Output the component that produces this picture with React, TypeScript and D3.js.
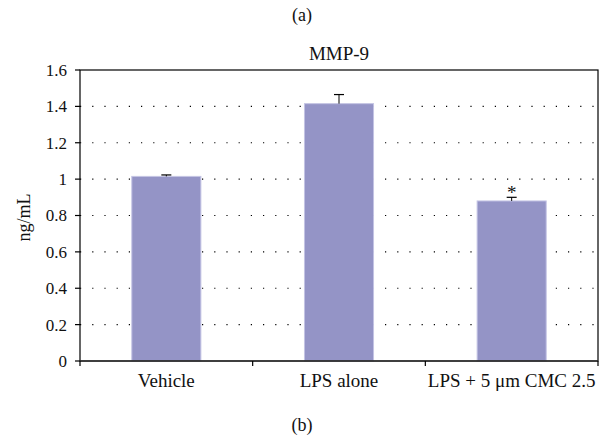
import React from "react";
import * as d3 from "d3";

const categories = ["Vehicle", "LPS alone", "LPS + 5 μm CMC 2.5"];
const values = [1.015, 1.415, 0.88];
const errors = [0.008, 0.05, 0.02];
const significant = [false, false, true];
const yTicks = [0, 0.2, 0.4, 0.6, 0.8, 1, 1.2, 1.4, 1.6];

const W = 611, H = 438;
const M = { left: 80, right: 13, top: 70, bottom: 77 };
const FONT = "Liberation Serif";

export default function App() {
  const x = d3.scaleBand<string>().domain(categories).range([M.left, W - M.right]).padding(0);
  const y = d3.scaleLinear().domain([0, 1.6]).range([H - M.bottom, M.top]);
  const bw = x.bandwidth() * 0.4;
  const x0 = M.left, x1 = W - M.right, y0 = y(0), y1 = y(1.6);
  return (
    <svg width={W} height={H} style={{ position: "absolute", left: 0, top: 0, background: "#fff" }}>
      <g fontFamily={FONT} fill="#111">
        <text x={302} y={21} textAnchor="middle" fontSize={18}>(a)</text>
        <text x={(x0 + x1) / 2} y={60} textAnchor="middle" fontSize={19}>MMP-9</text>
        {yTicks.map(t => (
          <text key={t} x={x0 - 13} y={y(t)} dy="0.35em" textAnchor="end" fontSize={17}>{t}</text>
        ))}
        {categories.map((c, i) => {
          const cx = x(c)! + x.bandwidth() / 2;
          return (
            <g key={c}>
              {significant[i] && (
                <text x={cx} y={y(values[i] + errors[i]) + 2} textAnchor="middle" fontSize={19}>*</text>
              )}
              <text x={cx} y={y0 + 26} textAnchor="middle" fontSize={19}>{c}</text>
            </g>
          );
        })}
        <text transform={`translate(30,${(y0 + y1) / 2 + 2}) rotate(-90)`} textAnchor="middle" fontSize={18}>ng/mL</text>
        <text x={302} y={431} textAnchor="middle" fontSize={18}>(b)</text>
      </g>
      {yTicks.filter(t => t > 0 && t < 1.6).map(t => (
        <line key={t} x1={x0} x2={x1} y1={y(t)} y2={y(t)} stroke="#000" strokeWidth={1.2} strokeDasharray="1.2 11" />
      ))}
      {categories.map((c, i) => {
        const cx = x(c)! + x.bandwidth() / 2;
        return (
          <g key={c}>
            <rect x={cx - bw / 2} y={y(values[i])} width={bw} height={y0 - y(values[i])} fill="#9494c6" stroke="#c4c4e4" strokeWidth={1} />
            <line x1={cx} x2={cx} y1={y(values[i])} y2={y(values[i] + errors[i])} stroke="#000" strokeWidth={1} />
            <line x1={cx - 5} x2={cx + 5} y1={y(values[i] + errors[i])} y2={y(values[i] + errors[i])} stroke="#000" strokeWidth={1.2} />
          </g>
        );
      })}
      <rect x={x0} y={y1} width={x1 - x0} height={y0 - y1} fill="none" stroke="#000" strokeWidth={1.2} />
      <line x1={x0} x2={x1} y1={y0} y2={y0} stroke="#333" strokeWidth={1.5} />
      {yTicks.map(t => (
        <line key={t} x1={x0 - 5} x2={x0} y1={y(t)} y2={y(t)} stroke="#000" strokeWidth={1.2} />
      ))}
      {[0, 1, 2, 3].map(k => {
        const xx = M.left + k * x.step();
        return <line key={k} x1={xx} x2={xx} y1={y0} y2={y0 + 5} stroke="#000" strokeWidth={1.2} />;
      })}
    </svg>
  );
}
